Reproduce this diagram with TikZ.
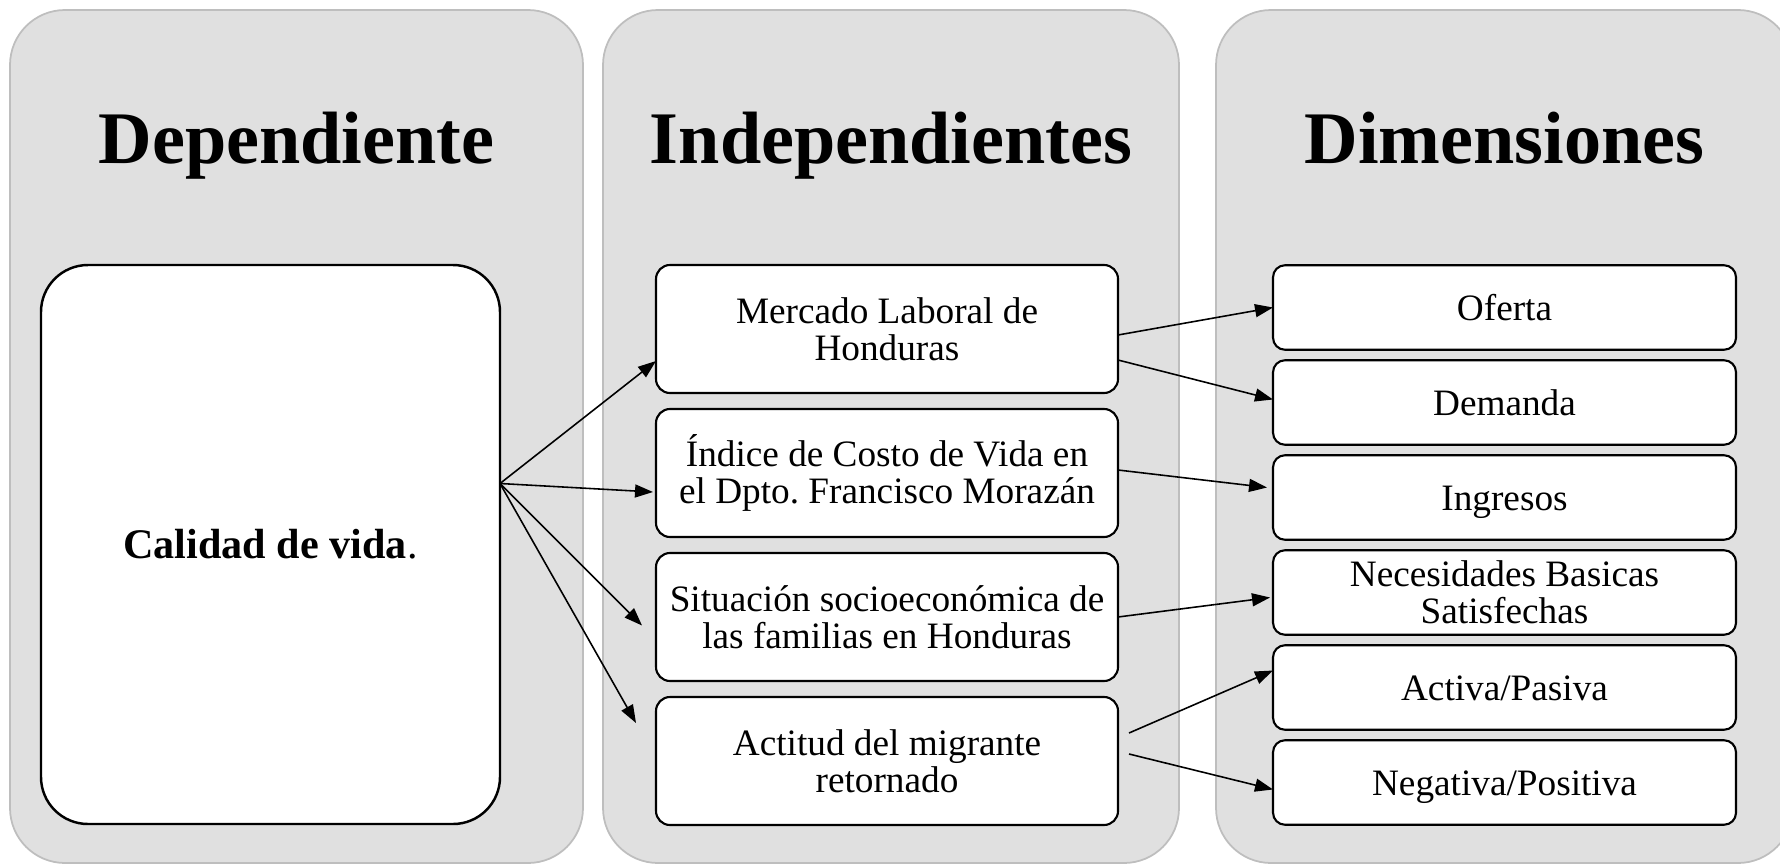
\documentclass[tikz,border=0pt]{standalone}
\usepackage{fontspec}
\setmainfont{Liberation Serif}
\usepackage{xcolor}
\usepackage{tikz}
\usetikzlibrary{positioning,arrows.meta}
\frenchspacing

\definecolor{panelgray}{RGB}{224,224,224}
\definecolor{panelline}{RGB}{190,190,190}

\tikzset{
  panel/.style={draw=panelline, line width=0.5pt, fill=panelgray, rounded corners=5.5mm,
    minimum height=85.3mm, inner sep=0pt, outer sep=0pt},
  ptitle/.style={font=\fontsize{21.1}{24}\selectfont\bfseries, anchor=base, inner sep=0pt},
  midbox/.style={draw, line width=0.6pt, fill=white, rounded corners=1.4mm, align=center,
    minimum width=46.2mm, minimum height=12.8mm, inner sep=0pt, outer sep=0pt,
    font=\fontsize{10.6}{10.6}\selectfont},
  dimbox/.style={draw, line width=0.6pt, fill=white, rounded corners=1.2mm, align=center,
    minimum width=46.3mm, minimum height=8.45mm, inner sep=0pt, outer sep=0pt,
    font=\fontsize{10.6}{10.6}\selectfont},
  oneline/.style={text height=7.2pt, text depth=0pt},
  arr/.style={-{Triangle[length=1.8mm,width=1.3mm]}, line width=0.45pt}
}

\begin{document}
\begin{tikzpicture}[x=0.1mm,y=-0.1mm]
\useasboundingbox (0,0) rectangle (1780,865);
\begin{scope}
\clip (0,0) rectangle (1780,865);
% the three columns
\node[panel, minimum width=57.3mm] (pdep) at (296.5,436.5) {};
\node[panel, minimum width=57.6mm] (pind) at (891,436.5) {};
\node[panel, minimum width=57.7mm] (pdim) at (1504.5,436.5) {};
\end{scope}

\node[ptitle] (tdep) at (296.5,163) {Dependiente};
\node[ptitle] (tind) at (891,163) {Independientes};
\node[ptitle] (tdim) at (1504.5,163) {Dimensiones};

% dependiente
\node[draw, line width=0.7pt, fill=white, rounded corners=4.7mm, minimum width=45.9mm,
  minimum height=55.9mm, outer sep=0pt, font=\fontsize{12}{14}\selectfont]
  (cal) at (270.5,544.5) {\textbf{Calidad de vida}.};

% independientes
\node[midbox] (m1) at (887,329) {Mercado Laboral de\\Honduras};
\node[midbox, below=1.6mm of m1] (m2) {Índice de Costo de Vida en\\el Dpto. Francisco Morazán};
\node[midbox, below=1.6mm of m2] (m3) {Situación socioeconómica de\\las familias en Honduras};
\node[midbox, below=1.6mm of m3] (m4) {Actitud del migrante\\retornado};

% dimensiones
\node[dimbox, oneline] (d1) at (1504.5,307.5) {Oferta};
\node[dimbox, oneline, below=1.05mm of d1] (d2) {Demanda};
\node[dimbox, oneline, below=1.05mm of d2] (d3) {Ingresos};
\node[dimbox, below=1.05mm of d3] (d4) {Necesidades Basicas\\Satisfechas};
\node[dimbox, oneline, below=1.05mm of d4] (d5) {Activa/Pasiva};
\node[dimbox, oneline, below=1.05mm of d5] (d6) {Negativa/Positiva};

% connectors
\coordinate (src) at ([yshift=6.1mm]cal.east);
\draw[arr] (src) -- ([yshift=-3.2mm]m1.west);
\draw[arr] (src) -- ([xshift=-0.3mm,yshift=-1.9mm]m2.west);
\draw[arr] (src) -- ([xshift=-1.4mm,yshift=-0.85mm]m3.west);
\draw[arr] (src) -- ([xshift=-2mm,yshift=3.8mm]m4.west);

\draw[arr] ([yshift=-0.6mm]m1.east) -- (d1.west);
\draw[arr] ([yshift=-3.1mm]m1.east) -- ([yshift=0.3mm]d2.west);
\draw[arr] ([yshift=0.3mm]m2.east) -- ([xshift=-0.6mm,yshift=1mm]d3.west);
\draw[arr] (m3.east) -- ([xshift=-0.3mm,yshift=-0.5mm]d4.west);
\draw[arr] ([xshift=1.1mm,yshift=2.8mm]m4.east) -- ([yshift=1.7mm]d5.west);
\draw[arr] ([xshift=1.1mm,yshift=0.7mm]m4.east) -- ([yshift=-0.7mm]d6.west);
\end{tikzpicture}
\end{document}
